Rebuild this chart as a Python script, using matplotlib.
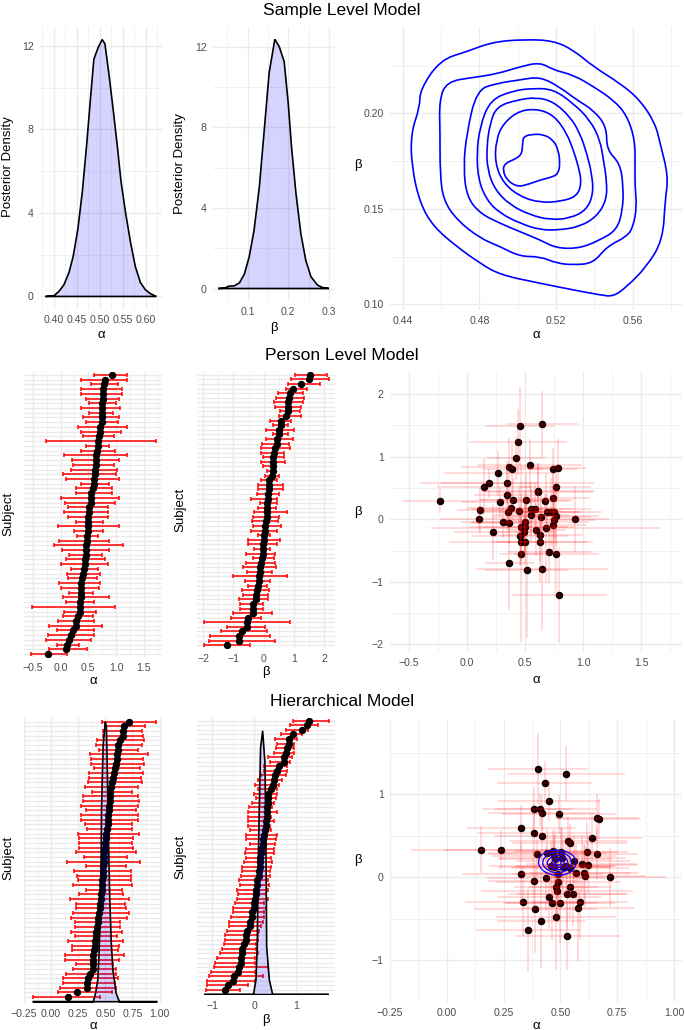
import matplotlib
matplotlib.use("Agg")
import matplotlib.pyplot as plt
import numpy as np
from matplotlib.patches import PathPatch
from matplotlib.path import Path
from matplotlib.ticker import FuncFormatter

plt.rcParams["font.family"] = ["Liberation Sans", "DejaVu Sans"]

W, H = 685, 1030
GRID = "#ebebeb"
TICK_GREY = "#4d4d4d"

# ---------------- sample level model ----------------
SL_A_X = [0.382, 0.400, 0.411, 0.422, 0.433, 0.442, 0.452, 0.462, 0.471, 0.480, 0.487, 0.496,
          0.505, 0.511, 0.520, 0.529, 0.538, 0.546, 0.556, 0.567, 0.577, 0.588, 0.599, 0.610, 0.623]
SL_A_D = [0.0, 0.03, 0.24, 0.56, 1.15, 1.91, 3.19, 5.02, 7.18, 9.57, 11.36, 11.9,
          12.3, 12.1, 10.6, 8.93, 7.18, 5.5, 3.99, 2.55, 1.44, 0.67, 0.32, 0.13, 0.0]
SL_B_X = [0.028, 0.043, 0.055, 0.067, 0.080, 0.092, 0.104, 0.116, 0.129, 0.141, 0.153, 0.167,
          0.178, 0.190, 0.200, 0.208, 0.219, 0.231, 0.243, 0.256, 0.272, 0.284, 0.300]
SL_B_D = [0.0, 0.02, 0.12, 0.13, 0.28, 0.71, 1.57, 2.9, 5.05, 7.86, 10.7, 12.37,
          12.0, 11.26, 9.2, 7.04, 4.72, 2.73, 1.41, 0.58, 0.17, 0.05, 0.0]

# joint posterior contour rings (alpha, beta), outer to inner
RINGS_A = [
    [0.5047, 0.5186, 0.5290, 0.5395, 0.5534, 0.5638, 0.5717, 0.5743, 0.5786, 0.5769, 0.5757, 0.5673,
     0.5569, 0.5499, 0.5430, 0.5290, 0.5117, 0.4908, 0.4803, 0.4682, 0.4560, 0.4490, 0.4447, 0.4443,
     0.4490, 0.4490, 0.4595, 0.4734, 0.4873],
    [0.4630, 0.4769, 0.4890, 0.5012, 0.5117, 0.5186, 0.5290, 0.5395, 0.5499, 0.5569, 0.5612, 0.5612,
     0.5612, 0.5621, 0.5603, 0.5569, 0.5464, 0.5395, 0.5290, 0.5203, 0.5117, 0.5012, 0.4908, 0.4803,
     0.4682, 0.4612, 0.4595, 0.4595, 0.4591],
    [0.4786, 0.4890, 0.5012, 0.5117, 0.5221, 0.5308, 0.5395, 0.5464, 0.5464, 0.5534, 0.5551, 0.5548,
     0.5517, 0.5430, 0.5325, 0.5203, 0.5117, 0.5012, 0.4908, 0.4803, 0.4734, 0.4717, 0.4734],
    [0.4856, 0.4977, 0.5082, 0.5186, 0.5290, 0.5377, 0.5430, 0.5447, 0.5464, 0.5464, 0.5412, 0.5325,
     0.5221, 0.5117, 0.5012, 0.4908, 0.4838, 0.4795, 0.4786, 0.4803],
    [0.4890, 0.4995, 0.5099, 0.5186, 0.5273, 0.5325, 0.5360, 0.5386, 0.5395, 0.5360, 0.5273, 0.5169,
     0.5064, 0.4960, 0.4882, 0.4842, 0.4838, 0.4856],
    [0.4925, 0.5012, 0.5117, 0.5195, 0.5256, 0.5290, 0.5317, 0.5334, 0.5308, 0.5221, 0.5117, 0.5012,
     0.4925, 0.4882, 0.4887],
    [0.5030, 0.5073, 0.5134, 0.5186, 0.5212, 0.5221, 0.5212, 0.5186, 0.5117, 0.5047, 0.4995, 0.4943,
     0.4922, 0.4934, 0.4977, 0.5021, 0.5026],
]
RINGS_B = [
    [0.2387, 0.2380, 0.2332, 0.2244, 0.2157, 0.2070, 0.1948, 0.1843, 0.1668, 0.1546, 0.1337, 0.1197,
     0.1092, 0.1040, 0.1049, 0.1075, 0.1110, 0.1154, 0.1215, 0.1302, 0.1407, 0.1529, 0.1721, 0.1895,
     0.2035, 0.2122, 0.2279, 0.2323, 0.2375],
    [0.2166, 0.2188, 0.2206, 0.2244, 0.2267, 0.2227, 0.2201, 0.2140, 0.2070, 0.1991, 0.1860, 0.1721,
     0.1616, 0.1511, 0.1407, 0.1354, 0.1302, 0.1215, 0.1206, 0.1215, 0.1250, 0.1250, 0.1302, 0.1346,
     0.1442, 0.1546, 0.1686, 0.1895, 0.2070],
    [0.2122, 0.2157, 0.2175, 0.2192, 0.2136, 0.2070, 0.2017, 0.1930, 0.1808, 0.1738, 0.1616, 0.1494,
     0.1389, 0.1337, 0.1293, 0.1293, 0.1337, 0.1380, 0.1424, 0.1476, 0.1563, 0.1721, 0.1895],
    [0.2070, 0.2119, 0.2131, 0.2126, 0.2052, 0.1965, 0.1860, 0.1756, 0.1651, 0.1546, 0.1459, 0.1407,
     0.1389, 0.1389, 0.1424, 0.1476, 0.1546, 0.1651, 0.1791, 0.1930],
    [0.2035, 0.2070, 0.2084, 0.2061, 0.1983, 0.1895, 0.1791, 0.1686, 0.1581, 0.1494, 0.1450, 0.1442,
     0.1468, 0.1520, 0.1599, 0.1703, 0.1825, 0.1948],
    [0.1948, 0.2017, 0.2021, 0.1983, 0.1895, 0.1808, 0.1721, 0.1634, 0.1564, 0.1538, 0.1532, 0.1564,
     0.1634, 0.1738, 0.1860],
    [0.1878, 0.1890, 0.1890, 0.1860, 0.1808, 0.1738, 0.1686, 0.1668, 0.1651, 0.1625, 0.1616, 0.1651,
     0.1703, 0.1738, 0.1756, 0.1782, 0.1843],
]

# ---------------- person level model ----------------
PL_ALPHA = [-0.23, 0.106, 0.115, 0.147, 0.187, 0.22, 0.27, 0.28, 0.31, 0.345, 0.345, 0.356, 0.365,
            0.365, 0.36, 0.39, 0.376, 0.397, 0.425, 0.44, 0.454, 0.448, 0.457, 0.466, 0.468, 0.468,
            0.494, 0.50, 0.503, 0.503, 0.51, 0.514, 0.54, 0.55, 0.552, 0.583, 0.595, 0.609, 0.615,
            0.626, 0.632, 0.641, 0.649, 0.647, 0.675, 0.681, 0.69, 0.71, 0.72, 0.739, 0.739, 0.744,
            0.747, 0.747, 0.764, 0.77, 0.77, 0.784, 0.796, 0.928]
PL_BETA = [0.29, 0.01, 0.14, 0.52, 0.57, -0.21, 0.73, 0.27, -0.04, 0.585, 0.38, 0.12, -0.06, -0.70,
           0.835, 0.80, 0.175, 0.31, 0.97, 1.23, 1.48, 0.13, -0.27, -0.36, -0.55, -0.13, -0.20, -0.04,
           -0.13, -0.36, 0.31, -0.81, 0.86, 0.16, 0.07, 0.16, -0.17, 0.45, 0.44, -0.37, -0.255, 0.04,
           1.52, -0.80, 0.29, -0.14, 0.12, -0.53, 0.12, 0.335, -0.09, 0.80, 0.11, -0.01, 0.52, 0.05,
           -0.56, 0.81, -1.21, 0.00]
# forest-plot interval rows, top to bottom
PA_LO = [0.60, 0.37, 0.54, 0.37, 0.37, 0.45, 0.51, 0.36, 0.52, 0.41, 0.45, 0.31, 0.37, 0.41, -0.27,
         0.46, 0.36, 0.06, 0.20, 0.23, 0.19, 0.05, 0.09, 0.36, 0.27, 0.27, 0.01, 0.08, 0.14, 0.07,
         0.13, 0.28, -0.05, 0.25, 0.30, -0.02, -0.11, 0.02, 0.16, 0.09, 0.01, 0.18, 0.11, 0.13, -0.03,
         0.01, 0.16, 0.05, 0.10, -0.52, 0.07, 0.05, -0.05, -0.20, -0.07, -0.23, -0.26, -0.07, -0.20, -0.54]
PA_HI = [1.20, 1.19, 1.03, 1.10, 1.10, 1.06, 1.00, 1.07, 0.95, 1.06, 1.03, 1.20, 1.09, 0.96, 1.72,
         0.88, 0.98, 1.20, 1.05, 0.96, 1.01, 1.00, 1.06, 0.87, 0.92, 0.92, 1.05, 0.99, 0.86, 0.86,
         0.86, 0.77, 1.05, 0.77, 0.68, 0.88, 1.13, 0.87, 0.75, 0.81, 0.86, 0.68, 0.72, 0.66, 0.72,
         0.69, 0.58, 0.88, 0.60, 0.98, 0.64, 0.59, 0.60, 0.74, 0.60, 0.60, 0.55, 0.34, 0.48, 0.11]
PB_LO = [1.03, 0.89, 0.81, 0.73, 0.46, 0.41, 0.35, 0.37, 0.54, 0.52, 0.21, 0.32, 0.08, 0.30, 0.07,
         -0.05, -0.09, -0.09, -0.01, -0.10, -0.01, 0.10, 0.04, -0.08, -0.19, -0.19, -0.23, -0.41,
         -0.12, -0.18, -0.31, -0.37, -0.38, -0.37, -0.43, -0.18, -0.51, -0.51, -0.31, -0.59, -0.34,
         -0.59, -0.67, -0.54, -1.00, -0.62, -0.52, -0.71, -0.67, -0.82, -0.78, -0.78, -1.02, -1.08,
         -1.97, -1.20, -1.40, -1.77, -1.81, -1.97]
PB_HI = [2.08, 2.16, 1.86, 1.42, 1.29, 1.34, 1.29, 1.23, 1.20, 1.23, 0.90, 0.79, 1.00, 0.79, 0.95,
         0.82, 0.85, 0.68, 0.68, 0.71, 0.38, 0.34, 0.52, 0.45, 0.63, 0.65, 0.52, 0.43, 0.43, 0.40,
         0.78, 0.52, 0.46, 0.56, 0.45, 0.21, 0.54, 0.45, 0.21, 0.37, 0.34, 0.36, 0.40, 0.26, 0.76,
         0.21, 0.12, 0.18, 0.14, 0.14, -0.03, -0.03, 0.26, -0.10, 0.85, 0.04, 0.10, 0.21, 0.37, -0.45]

# ---------------- hierarchical model ----------------
HL_ALPHA = [0.152, 0.238, 0.327, 0.327, 0.336, 0.358, 0.382, 0.383, 0.382, 0.39, 0.396, 0.402, 0.409,
            0.417, 0.415, 0.421, 0.43, 0.437, 0.443, 0.45, 0.45, 0.462, 0.466, 0.471, 0.48, 0.482,
            0.485, 0.491, 0.494, 0.497, 0.504, 0.523, 0.523, 0.528, 0.53, 0.535, 0.542, 0.544, 0.554,
            0.569, 0.576, 0.586, 0.595, 0.604, 0.607, 0.618, 0.621, 0.639, 0.66, 0.662, 0.668, 0.716,
            0.478, 0.512, 0.541, 0.471, 0.488, 0.507, 0.46, 0.558]
HL_BETA = [0.335, 0.335, 0.60, 0.046, -0.29, -0.63, 0.83, 0.54, -0.046, -0.38, 0.28, 1.31, 0.82, 0.78,
           -0.52, 0.50, 1.14, -0.01, 0.30, 0.925, -0.235, -0.31, 0.32, 0.13, -0.48, -0.11, -0.165,
           -0.05, 0.76, -0.31, 0.31, 1.25, 0.135, -0.205, -0.71, 0.44, 0.41, -0.11, -0.20, 0.058,
           -0.366, -0.29, 0.16, 0.058, 0.015, 0.31, 0.154, 0.48, 0.72, 0.285, 0.70, 0.00, 0.22, 0.12,
           0.11, 0.26, 0.046, 0.23, 0.14, 0.20]
HA_LO = [0.47, 0.50, 0.48, 0.48, 0.42, 0.41, 0.44, 0.36, 0.37, 0.37, 0.40, 0.35, 0.35, 0.34, 0.31,
         0.38, 0.29, 0.29, 0.28, 0.32, 0.28, 0.28, 0.31, 0.33, 0.25, 0.26, 0.26, 0.26, 0.23, 0.30,
         0.15, 0.32, 0.21, 0.24, 0.25, 0.20, 0.32, 0.26, 0.17, 0.23, 0.23, 0.20, 0.18, 0.22, 0.22,
         0.18, 0.22, 0.16, 0.19, 0.19, 0.13, 0.13, 0.23, 0.20, 0.14, 0.11, 0.11, 0.08, 0.06, -0.17]
HA_HI = [0.97, 0.87, 0.84, 0.85, 0.86, 0.84, 0.80, 0.89, 0.85, 0.86, 0.82, 0.85, 0.83, 0.84, 0.80,
         0.75, 0.80, 0.81, 0.80, 0.78, 0.80, 0.80, 0.75, 0.75, 0.81, 0.76, 0.75, 0.76, 0.78, 0.70,
         0.82, 0.69, 0.74, 0.74, 0.74, 0.75, 0.65, 0.66, 0.72, 0.68, 0.69, 0.72, 0.70, 0.64, 0.64,
         0.65, 0.61, 0.66, 0.63, 0.62, 0.67, 0.63, 0.57, 0.60, 0.60, 0.62, 0.59, 0.60, 0.56, 0.45]
HB_LO = [0.92, 0.85, 0.77, 0.65, 0.49, 0.55, 0.51, 0.47, 0.33, 0.38, 0.24, 0.24, 0.16, 0.10, 0.01,
         0.09, -0.01, 0.03, -0.05, -0.13, -0.16, -0.15, -0.16, -0.16, -0.11, -0.20, -0.19, -0.11,
         -0.21, -0.22, -0.19, -0.24, -0.29, -0.29, -0.32, -0.36, -0.34, -0.42, -0.38, -0.42, -0.46,
         -0.50, -0.50, -0.55, -0.60, -0.61, -0.65, -0.69, -0.71, -0.73, -0.77, -0.81, -0.88, -0.94,
         -0.96, -1.04, -1.08, -1.12, -1.14, -1.16]
HB_HI = [1.78, 1.52, 1.29, 1.13, 1.02, 0.95, 0.94, 0.94, 0.90, 0.86, 0.78, 0.78, 0.77, 0.67, 0.59,
         0.55, 0.55, 0.51, 0.47, 0.43, 0.55, 0.41, 0.46, 0.38, 0.41, 0.55, 0.51, 0.50, 0.47, 0.47,
         0.41, 0.43, 0.40, 0.38, 0.38, 0.32, 0.36, 0.32, 0.28, 0.32, 0.24, 0.28, 0.24, 0.24, 0.20,
         0.16, 0.12, 0.09, 0.09, 0.05, 0.05, 0.09, 0.01, 0.01, 0.32, 0.01, 0.20, 0.01, -0.15, -0.34]
# group-level densities drawn on the subject axis (height in subject rows)
HA_DENS_X = [-0.17, 0.39, 0.41, 0.43, 0.44, 0.45, 0.46, 0.465, 0.48, 0.50, 0.51, 0.52, 0.53, 0.54,
             0.555, 0.57, 0.60, 0.63, 0.98]
HA_DENS_Y = [0, 0, 1.8, 4.6, 8.9, 16, 26.8, 41, 55, 60, 59, 48, 34, 23, 12.6, 6.8, 1.8, 0, 0]
HB_DENS_X = [-1.2, -0.02, 0.04, 0.07, 0.10, 0.15, 0.20, 0.256, 0.28, 0.296, 0.36, 0.44, 1.78]
HB_DENS_Y = [0, 0, 3.2, 10.5, 32, 54, 57.8, 50.7, 32, 10.5, 3.2, 0, 0]
HRINGS_A = [
    [0.40, 0.42, 0.46, 0.50, 0.54, 0.565, 0.57, 0.555, 0.52, 0.48, 0.44, 0.41],
    [0.42, 0.44, 0.47, 0.50, 0.535, 0.55, 0.545, 0.52, 0.48, 0.45, 0.425],
    [0.44, 0.46, 0.49, 0.52, 0.535, 0.53, 0.50, 0.47, 0.445],
    [0.46, 0.48, 0.505, 0.52, 0.51, 0.485, 0.463],
    [0.475, 0.49, 0.505, 0.50, 0.48],
]
HRINGS_B = [
    [0.20, 0.29, 0.33, 0.33, 0.30, 0.24, 0.16, 0.08, 0.03, 0.02, 0.05, 0.11],
    [0.20, 0.27, 0.30, 0.30, 0.27, 0.20, 0.12, 0.07, 0.05, 0.08, 0.13],
    [0.19, 0.25, 0.27, 0.25, 0.19, 0.12, 0.09, 0.10, 0.14],
    [0.19, 0.23, 0.23, 0.18, 0.13, 0.12, 0.15],
    [0.18, 0.21, 0.19, 0.15, 0.15],
]

fig = plt.figure(figsize=(W / 100, H / 100), dpi=100)


def fmt(spec):
    def f(v, _):
        if abs(v) < 1e-9:
            v = 0.0
        return (spec % v).replace("-", "\u2212")
    return FuncFormatter(f)


def panel(left, top, width, height, xlim, ylim, xmaj, xmin, xspec, ymaj=None, ymin=None, yspec=None):
    ax = fig.add_axes([left / W, 1 - (top + height) / H, width / W, height / H])
    for s in ax.spines.values():
        s.set_visible(False)
    ax.set_xlim(*xlim)
    ax.set_ylim(*ylim)
    ax.set_xticks(xmaj)
    ax.set_xticks(xmin, minor=True)
    ax.xaxis.set_major_formatter(fmt(xspec))
    if ymaj is None:
        ax.set_yticks(np.arange(1, 61))
        ax.set_yticklabels([])
    else:
        ax.set_yticks(ymaj)
        ax.set_yticks(ymin, minor=True)
        ax.yaxis.set_major_formatter(fmt(yspec))
    ax.tick_params(which="both", length=0, labelsize=7.6, labelcolor=TICK_GREY, pad=4.5)
    ax.grid(which="major", color=GRID, lw=1.0)
    ax.grid(which="minor", color=GRID, lw=0.5)
    ax.set_axisbelow(True)
    return ax


def label(x, y, s, size=9.5, rot=0):
    fig.text(x / W, 1 - y / H, s, ha="center", va="center", fontsize=size, rotation=rot)


def ring(ax, xs, ys, **kw):
    pts = np.column_stack([xs, ys])
    mids = (pts + np.roll(pts, -1, axis=0)) / 2
    verts, codes = [mids[-1]], [Path.MOVETO]
    for p, m in zip(pts, mids):
        verts += [p, m]
        codes += [Path.CURVE3, Path.CURVE3]
    ax.add_patch(PathPatch(Path(verts, codes), fill=False, **kw))


def density(ax, xs, ys):
    ax.fill(xs, ys, facecolor="blue", alpha=0.17, lw=0, zorder=3)
    ax.fill(xs, ys, facecolor="none", edgecolor="black", lw=1.2, zorder=4)


def forest(ax, dots, lo, hi):
    rows = np.arange(len(lo), 0, -1)
    lo, hi = np.asarray(lo), np.asarray(hi)
    mid = (lo + hi) / 2
    ax.errorbar(mid, rows, xerr=[mid - lo, hi - mid], fmt="none", ecolor="red",
                elinewidth=1.1, capsize=1.6, capthick=1.1, zorder=2)
    ax.plot(np.sort(dots)[::-1], rows, "o", color="black", ms=4.3, zorder=2.5)


def halfwidths(values, lo, hi):
    order = np.argsort(-np.asarray(values), kind="stable")
    hw = np.empty(len(values))
    hw[order] = (np.asarray(hi) - np.asarray(lo)) / 2
    return hw


def scatter(ax, a, b, a_hw, b_hw):
    ax.plot(a, b, "o", color="black", ms=4.4, zorder=2)
    ax.errorbar(a, b, xerr=a_hw, yerr=b_hw, fmt="none", ecolor=(1, 0, 0, 0.17),
                elinewidth=1.2, zorder=3)


# ---- row 1 ----
label(342, 11, "Sample Level Model", size=12.5)
ax = panel(40, 27, 122, 282, (0.370, 0.635), (-0.6, 12.9),
           [0.40, 0.45, 0.50, 0.55, 0.60], [0.375, 0.425, 0.475, 0.525, 0.575, 0.625], "%.2f",
           [0, 4, 8, 12], [2, 6, 10], "%d")
density(ax, SL_A_X, SL_A_D)
label(8, 167, "Posterior Density", rot=90)
label(101, 335, "\u03b1")

ax = panel(213, 27, 122, 274, (0.015, 0.315), (-0.62, 12.98),
           [0.1, 0.2, 0.3], [0.05, 0.15, 0.25], "%.1f", [0, 4, 8, 12], [2, 6, 10], "%d")
density(ax, SL_B_X, SL_B_D)
label(180, 164, "Posterior Density", rot=90)
label(274, 328, "\u03b2")

ax = panel(390, 27, 292, 283, (0.4334, 0.5857), (0.097, 0.2452),
           [0.44, 0.48, 0.52, 0.56], [0.46, 0.50, 0.54, 0.58], "%.2f",
           [0.10, 0.15, 0.20], [0.125, 0.175, 0.225], "%.2f")
for xs, ys in zip(RINGS_A, RINGS_B):
    ring(ax, xs, ys, edgecolor="#0000ff", lw=1.2)
label(358, 165, "\u03b2")
label(536, 335, "\u03b1")

# ---- row 2 ----
label(342, 356, "Person Level Model", size=12.5)
ax = panel(24, 372, 138, 285, (-0.66, 1.83), (0.4, 60.6),
           [-0.5, 0.0, 0.5, 1.0, 1.5], [-0.25, 0.25, 0.75, 1.25, 1.75], "%.1f")
forest(ax, PL_ALPHA, PA_LO, PA_HI)
label(8, 514, "Subject", rot=90)
label(93, 681, "\u03b1")

ax = panel(197, 372, 138, 276, (-2.2, 2.35), (0.4, 60.6),
           [-2, -1, 0, 1, 2], [-1.5, -0.5, 0.5, 1.5], "%d")
forest(ax, PL_BETA, PB_LO, PB_HI)
label(180, 510, "Subject", rot=90)
label(266, 672, "\u03b2")

ax = panel(390, 372, 292, 280, (-0.664, 1.853), (-2.12, 2.35),
           [-0.5, 0.0, 0.5, 1.0, 1.5], [-0.25, 0.25, 0.75, 1.25, 1.75], "%.1f",
           [-2, -1, 0, 1, 2], [-1.5, -0.5, 0.5, 1.5], "%d")
scatter(ax, PL_ALPHA, PL_BETA, halfwidths(PL_ALPHA, PA_LO, PA_HI),
        halfwidths(PL_BETA, PB_LO, PB_HI))
label(358, 512, "\u03b2")
label(536, 680, "\u03b1")

# ---- row 3 ----
label(342, 701, "Hierarchical Model", size=12.5)
ax = panel(24, 718, 138, 285, (-0.22, 1.023), (-0.28, 60.8),
           [-0.25, 0.0, 0.25, 0.5, 0.75, 1.0], [-0.125, 0.125, 0.375, 0.625, 0.875], "%.2f")
forest(ax, HL_ALPHA, HA_LO, HA_HI)
density(ax, HA_DENS_X, HA_DENS_Y)
label(8, 858, "Subject", rot=90)
label(93, 1026, "\u03b1")

ax = panel(197, 718, 138, 277, (-1.37, 1.93), (-0.1, 60.6),
           [-1, 0, 1], [-0.5, 0.5, 1.5], "%d")
forest(ax, HL_BETA, HB_LO, HB_HI)
density(ax, HB_DENS_X, HB_DENS_Y)
label(180, 857, "Subject", rot=90)
label(266, 1020, "\u03b2")

ax = panel(390, 720, 292, 282, (-0.2456, 1.035), (-1.364, 1.896),
           [-0.25, 0.0, 0.25, 0.5, 0.75, 1.0], [-0.125, 0.125, 0.375, 0.625, 0.875], "%.2f",
           [-1, 0, 1], [-1.5, -0.5, 0.5, 1.5], "%d")
scatter(ax, HL_ALPHA, HL_BETA, halfwidths(HL_ALPHA, HA_LO, HA_HI),
        halfwidths(HL_BETA, HB_LO, HB_HI))
for xs, ys in zip(HRINGS_A, HRINGS_B):
    ring(ax, xs, ys, edgecolor="#0000ff", lw=0.9, zorder=4)
label(358, 860, "\u03b2")
label(536, 1026, "\u03b1")

fig.savefig("out.png", dpi=100, facecolor="white")
